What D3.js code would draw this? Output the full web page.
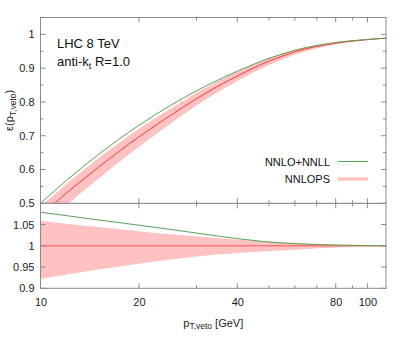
<!DOCTYPE html>
<html><head><meta charset="utf-8">
<script src="https://cdn.jsdelivr.net/npm/d3@7"></script>
<style>body{margin:0;background:#fff}svg{display:block;font-family:"Liberation Sans",Arial,sans-serif}</style>
</head><body>
<script>
const pT        = [10, 12, 15, 20, 25, 30, 40, 50, 60, 80, 100, 114];
const nnloNnll  = [0.500, 0.5675, 0.6435, 0.7307, 0.790, 0.833, 0.891, 0.929, 0.953, 0.976, 0.985, 0.989];
const nnlops    = [0.4634, 0.5299, 0.6059, 0.6966, 0.7603, 0.8095, 0.877, 0.9207, 0.9483, 0.9741, 0.9845, 0.989];
const nnlopsHi  = [0.4907, 0.5575, 0.6326, 0.7206, 0.7808, 0.8273, 0.8902, 0.9299, 0.9549, 0.977, 0.9855, 0.989];
const nnlopsLo  = [0.4273, 0.4939, 0.572, 0.6673, 0.736, 0.7893, 0.8621, 0.9092, 0.9398, 0.9702, 0.9835, 0.989];
const ratioNnll = [1.079, 1.071, 1.061, 1.0485, 1.0385, 1.030, 1.017, 1.009, 1.0048, 1.0018, 1.0005, 1.0];
const ratioHi   = [1.059, 1.052, 1.044, 1.0345, 1.027, 1.022, 1.015, 1.010, 1.007, 1.003, 1.001, 1.0];
const ratioLo   = [0.922, 0.932, 0.944, 0.958, 0.968, 0.975, 0.983, 0.9875, 0.991, 0.996, 0.999, 1.0];
const xTicks    = [10, 20, 30, 40, 50, 60, 70, 80, 90, 100];
const xLabels   = [10, 20, 40, 80, 100];
const yTopTicks = [0.5, 0.55, 0.6, 0.65, 0.7, 0.75, 0.8, 0.85, 0.9, 0.95, 1.0];
const yTopLabels= [0.5, 0.6, 0.7, 0.8, 0.9, 1.0];
const yBotTicks = [0.9, 0.95, 1.0, 1.05];
const legendItems = ["NNLO+NNLL", "NNLOPS"];

const W = 407, H = 339;
const L = 40.5, R = 386, T1 = 17.5, B1 = 203.3, B2 = 288.3;
const frameCol = "#8a8a8a", green = "#56a256", red = "#ff3838", pink = "#ffc2c2";

const svg = d3.select("body").append("svg").attr("width", W).attr("height", H);
const x = d3.scaleLog().domain([10, 114]).range([L, R]);
const yT = d3.scaleLinear().domain([0.5, 1.05]).range([B1, T1]);
const yB = d3.scaleLinear().domain([0.9, 1.1]).range([B2, B1]);
const crv = d3.curveMonotoneX;

const idx = d3.range(pT.length);
svg.append("defs").call(d => {
  d.append("clipPath").attr("id", "c1").append("rect").attr("x", L).attr("y", T1).attr("width", R - L).attr("height", B1 - T1);
  d.append("clipPath").attr("id", "c2").append("rect").attr("x", L).attr("y", B1).attr("width", R - L).attr("height", B2 - B1);
});

// upper panel
const g1 = svg.append("g").attr("clip-path", "url(#c1)");
g1.append("path").datum(idx).attr("fill", pink)
  .attr("d", d3.area().curve(crv).x(i => x(pT[i])).y0(i => yT(nnlopsLo[i])).y1(i => yT(nnlopsHi[i])));
g1.append("path").datum(idx).attr("fill", "none").attr("stroke", red).attr("stroke-width", 1)
  .attr("d", d3.line().curve(crv).x(i => x(pT[i])).y(i => yT(nnlops[i])));
g1.append("path").datum(idx).attr("fill", "none").attr("stroke", green).attr("stroke-width", 1)
  .attr("d", d3.line().curve(crv).x(i => x(pT[i])).y(i => yT(nnloNnll[i])));

// lower panel
const g2 = svg.append("g").attr("clip-path", "url(#c2)");
g2.append("path").datum(idx).attr("fill", pink)
  .attr("d", d3.area().curve(crv).x(i => x(pT[i])).y0(i => yB(ratioLo[i])).y1(i => yB(ratioHi[i])));
g2.append("line").attr("x1", L).attr("x2", R).attr("y1", yB(1)).attr("y2", yB(1))
  .attr("stroke", "#ff7878").attr("stroke-width", 1.6);
g2.append("path").datum(idx).attr("fill", "none").attr("stroke", green).attr("stroke-width", 1)
  .attr("d", d3.line().curve(crv).x(i => x(pT[i])).y(i => yB(ratioNnll[i])));

// frames
const fr = svg.append("g").attr("fill", "none").attr("stroke", frameCol).attr("stroke-width", 1);
fr.append("rect").attr("x", L).attr("y", T1).attr("width", R - L).attr("height", B2 - T1);
fr.append("line").attr("x1", L).attr("x2", R).attr("y1", B1).attr("y2", B1).attr("stroke", "#777");

// ticks
const tk = svg.append("g").attr("stroke", frameCol).attr("stroke-width", 1);
xTicks.forEach(v => {
  const len = xLabels.includes(v) ? 5 : 3;
  const xx = x(v);
  [[T1, 1], [B1, -1], [B1, 1], [B2, -1]].forEach(([y0, dir]) => {
    tk.append("line").attr("x1", xx).attr("x2", xx).attr("y1", y0).attr("y2", y0 + dir * len);
  });
});
yTopTicks.forEach(v => {
  const len = yTopLabels.some(l => Math.abs(l - v) < 1e-9) ? 5 : 3;
  const yy = yT(v);
  tk.append("line").attr("x1", L).attr("x2", L + len).attr("y1", yy).attr("y2", yy);
  tk.append("line").attr("x1", R).attr("x2", R - len).attr("y1", yy).attr("y2", yy);
});
yBotTicks.forEach(v => {
  const yy = yB(v);
  tk.append("line").attr("x1", L).attr("x2", L + 5).attr("y1", yy).attr("y2", yy);
  tk.append("line").attr("x1", R).attr("x2", R - 5).attr("y1", yy).attr("y2", yy);
});

// tick labels
const lab = svg.append("g").attr("font-size", 11).attr("fill", "#222");
yTopLabels.forEach(v => {
  lab.append("text").attr("x", L - 6).attr("y", yT(v)).attr("dy", "0.36em").attr("text-anchor", "end").text(d3.format("~g")(v));
});
yBotTicks.forEach(v => {
  lab.append("text").attr("x", L - 6).attr("y", yB(v)).attr("dy", "0.36em").attr("text-anchor", "end").text(d3.format("~g")(v));
});
xLabels.forEach(v => {
  lab.append("text").attr("x", x(v) + 0.5).attr("y", B2 + 18).attr("text-anchor", "middle").text(v);
});

// axis titles
const xt = svg.append("text").attr("x", (L + R) / 2).attr("y", 326.5).attr("text-anchor", "middle").attr("font-size", 11).attr("fill", "#222");
xt.append("tspan").text("p");
xt.append("tspan").attr("font-size", 8.5).attr("dy", 2.5).text("T,veto");
xt.append("tspan").attr("dy", -2.5).text(" [GeV]");

const yt = svg.append("text").attr("transform", `translate(13,${(T1 + B1) / 2}) rotate(-90)`).attr("text-anchor", "middle").attr("font-size", 11).attr("fill", "#222");
yt.append("tspan").text("ε(p");
yt.append("tspan").attr("font-size", 8.5).attr("dy", 2.5).text("T,veto");
yt.append("tspan").attr("dy", -2.5).text(")");

// annotations
svg.append("text").attr("x", 57).attr("y", 48).attr("font-size", 13).attr("fill", "#111").text("LHC 8 TeV");
const ak = svg.append("text").attr("x", 57).attr("y", 66).attr("font-size", 13).attr("fill", "#111");
ak.append("tspan").text("anti-k");
ak.append("tspan").attr("font-size", 9).attr("dy", 3).text("t");
ak.append("tspan").attr("dy", -3).text(" R=1.0");

// legend
const lg = svg.append("g").attr("font-size", 11).attr("fill", "#111");
lg.append("text").attr("x", 330).attr("y", 166).attr("text-anchor", "end").text(legendItems[0]);
lg.append("line").attr("x1", 338).attr("x2", 368).attr("y1", 161.5).attr("y2", 161.5).attr("stroke", green).attr("stroke-width", 1);
lg.append("text").attr("x", 330).attr("y", 182.7).attr("text-anchor", "end").text(legendItems[1]);
lg.append("line").attr("x1", 338).attr("x2", 368).attr("y1", 179).attr("y2", 179).attr("stroke", pink).attr("stroke-width", 3.5);
</script>
</body></html>
